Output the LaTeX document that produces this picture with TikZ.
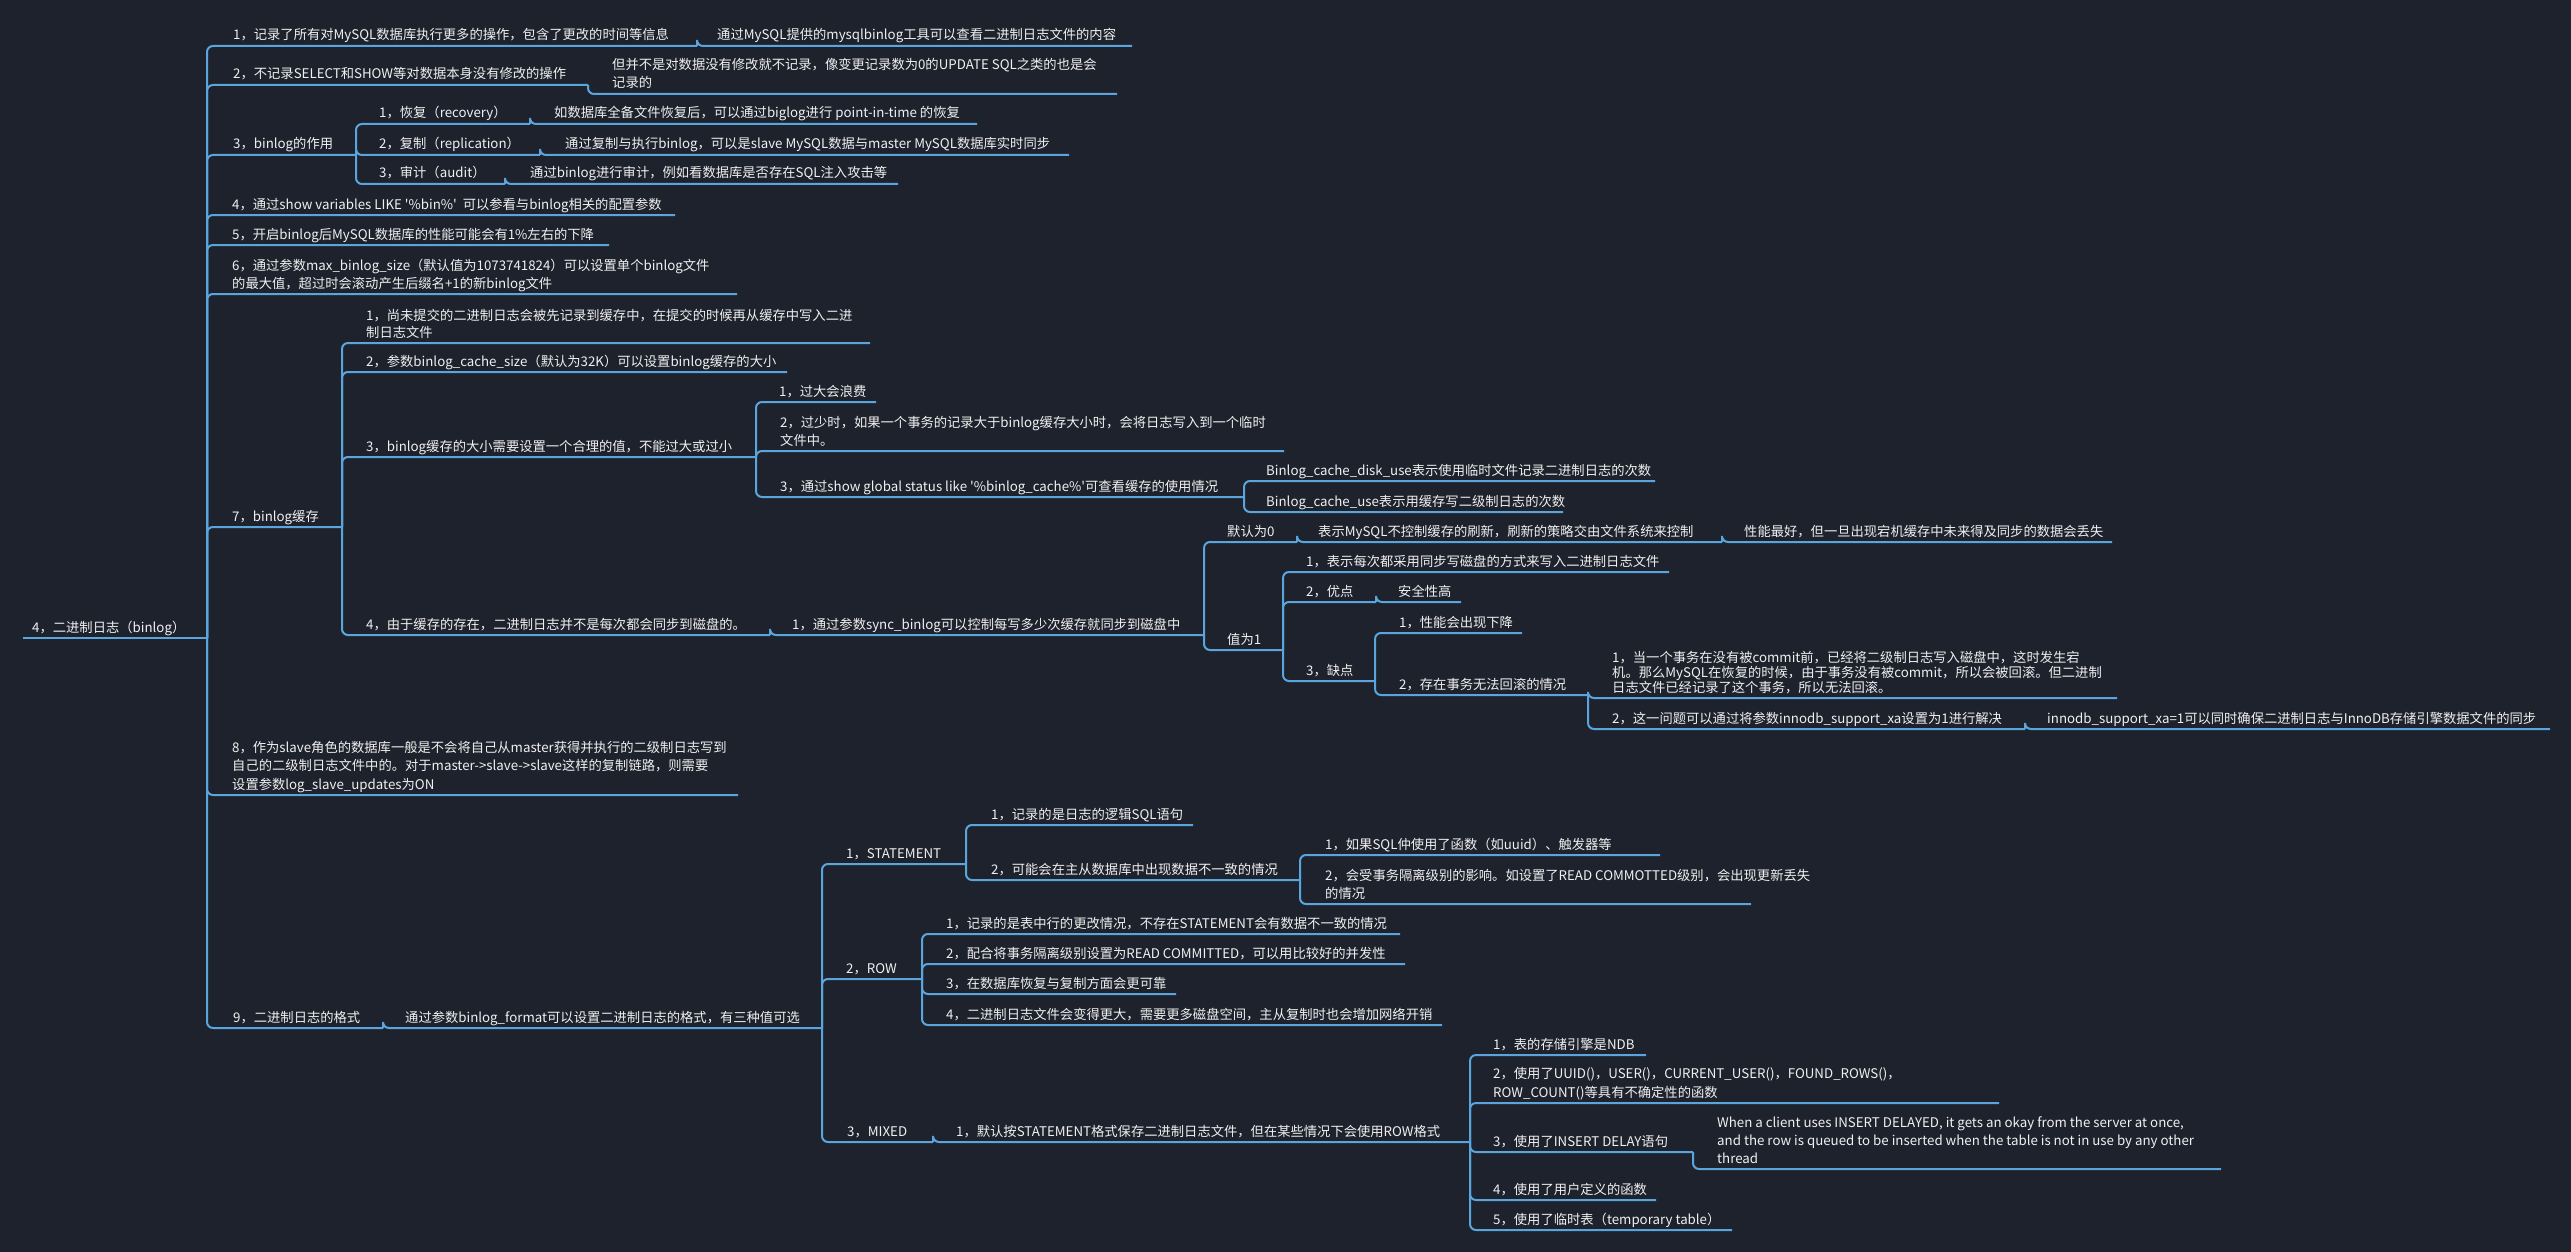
\documentclass[tikz,border=0pt]{standalone}
\usepackage{fontspec}
\setmainfont{Noto Sans CJK SC}
\definecolor{bg}{HTML}{1E222D}
\definecolor{ln}{HTML}{5AA5DD}
\definecolor{tx}{HTML}{F0F0F0}
\newcommand\MMlines[2]{\vbox{\baselineskip=#1pt\lineskiplimit=-100pt\lineskip=0pt #2}}
\newcommand\MMnode[5]{%
  \coordinate (#1) at (#4,#3);
  \node[txt] (t#1) at (#2,#3-6) {#5};}
\newcommand\MMq{\textquotesingle}
\begin{document}
\begin{tikzpicture}[x=1pt,y=-1pt,
  txt/.style={anchor=base west, inner sep=0pt, text=tx, font=\fontsize{13.3}{16}\selectfont},
  edge/.style={draw=ln, line width=2pt, rounded corners=6pt}]
\fill[bg] (0,0) rectangle (2571,1252);
\useasboundingbox (0,0) rectangle (2571,1252);
% root
\coordinate (R0) at (23,638);
\MMnode{R}{32}{638}{207}{4，二进制日志（binlog）}
% level 1
\MMnode{A1}{233}{46}{697}{1，记录了所有对MySQL数据库执行更多的操作，包含了更改的时间等信息}
\MMnode{A1a}{717}{46}{1132}{通过MySQL提供的mysqlbinlog工具可以查看二进制日志文件的内容}
\MMnode{A2}{233}{85}{588}{2，不记录SELECT和SHOW等对数据本身没有修改的操作}
\MMnode{A2a}{612}{94}{1117}{\MMlines{18}{\hbox{但并不是对数据没有修改就不记录，像变更记录数为0的UPDATE SQL之类的也是会}\hbox{记录的}}}
\MMnode{A3}{233}{155}{356}{3，binlog的作用}
\MMnode{A3a}{379}{124}{530}{1，恢复（recovery）}
\MMnode{A3a1}{554}{124}{977}{如数据库全备文件恢复后，可以通过biglog进行 point-in-time 的恢复}
\MMnode{A3b}{379}{155}{540}{2，复制（replication）}
\MMnode{A3b1}{565}{155}{1069}{通过复制与执行binlog，可以是slave MySQL数据与master MySQL数据库实时同步}
\MMnode{A3c}{379}{184}{505}{3，审计（audit）}
\MMnode{A3c1}{530}{184}{898}{通过binlog进行审计，例如看数据库是否存在SQL注入攻击等}
\MMnode{A4}{232}{215}{675}{4，通过show variables LIKE \MMq\%bin\%\MMq\ \ 可以参看与binlog相关的配置参数}
\MMnode{A5}{232}{245}{609}{5，开启binlog后MySQL数据库的性能可能会有1\%左右的下降}
\MMnode{A6}{232}{294}{737}{\MMlines{18}{\hbox{6，通过参数max\_binlog\_size（默认值为1073741824）可以设置单个binlog文件}\hbox{的最大值，超过时会滚动产生后缀名+1的新binlog文件}}}
\MMnode{A7}{232}{527}{342}{7，binlog缓存}
\MMnode{A7a}{366}{343}{870}{\MMlines{17}{\hbox{1，尚未提交的二进制日志会被先记录到缓存中，在提交的时候再从缓存中写入二进}\hbox{制日志文件}}}
\MMnode{A7b}{366}{372}{787}{2，参数binlog\_cache\_size（默认为32K）可以设置binlog缓存的大小}
\MMnode{A7c}{366}{457}{756}{3，binlog缓存的大小需要设置一个合理的值，不能过大或过小}
\MMnode{A7c1}{779}{402}{876}{1，过大会浪费}
\MMnode{A7c2}{780}{451}{1284}{\MMlines{18}{\hbox{2，过少时，如果一个事务的记录大于binlog缓存大小时，会将日志写入到一个临时}\hbox{文件中。}}}
\MMnode{A7c3}{780}{497}{1244}{3，通过show global status like \MMq\%binlog\_cache\%\MMq 可查看缓存的使用情况}
\MMnode{A7c3a}{1266}{481}{1655}{Binlog\_cache\_disk\_use表示使用临时文件记录二进制日志的次数}
\MMnode{A7c3b}{1266}{512}{1563}{Binlog\_cache\_use表示用缓存写二级制日志的次数}
\MMnode{A7d}{366}{635}{770}{4，由于缓存的存在，二进制日志并不是每次都会同步到磁盘的。}
\MMnode{A7d1}{792}{635}{1204}{1，通过参数sync\_binlog可以控制每写多少次缓存就同步到磁盘中}
\MMnode{B0}{1227}{542}{1297}{默认为0}
\MMnode{B0a}{1318}{542}{1722}{表示MySQL不控制缓存的刷新，刷新的策略交由文件系统来控制}
\MMnode{B0a1}{1744}{542}{2112}{性能最好，但一旦出现宕机缓存中未来得及同步的数据会丢失}
\MMnode{B1}{1227}{650}{1283}{值为1}
\MMnode{B1a}{1306}{572}{1669}{1，表示每次都采用同步写磁盘的方式来写入二进制日志文件}
\MMnode{B1b}{1306}{602}{1376}{2，优点}
\MMnode{B1b1}{1398}{602}{1461}{安全性高}
\MMnode{B1c}{1306}{681}{1375}{3，缺点}
\MMnode{B1c1}{1399}{633}{1522}{1，性能会出现下降}
\MMnode{B1c2}{1399}{695}{1588}{2，存在事务无法回滚的情况}
\MMnode{B1c2a}{1612}{698}{2117}{\MMlines{15}{\hbox{1，当一个事务在没有被commit前，已经将二级制日志写入磁盘中，这时发生宕}\hbox{机。那么MySQL在恢复的时候，由于事务没有被commit，所以会被回滚。但二进制}\hbox{日志文件已经记录了这个事务，所以无法回滚。}}}
\MMnode{B1c2b}{1612}{729}{2025}{2，这一问题可以通过将参数innodb\_support\_xa设置为1进行解决}
\MMnode{B1c2b1}{2047}{729}{2550}{innodb\_support\_xa=1可以同时确保二进制日志与InnoDB存储引擎数据文件的同步}
\MMnode{A8}{232}{795}{738}{\MMlines{18.5}{\hbox{8，作为slave角色的数据库一般是不会将自己从master获得并执行的二级制日志写到}\hbox{自己的二级制日志文件中的。对于master->slave->slave这样的复制链路，则需要}\hbox{设置参数log\_slave\_updates为ON}}}
\MMnode{A9}{233}{1028}{383}{9，二进制日志的格式}
\MMnode{A9a}{405}{1028}{822}{通过参数binlog\_format可以设置二进制日志的格式，有三种值可选}
\MMnode{C1}{846}{864}{966}{1，STATEMENT}
\MMnode{C1a}{991}{825}{1193}{1，记录的是日志的逻辑SQL语句}
\MMnode{C1b}{991}{880}{1300}{2，可能会在主从数据库中出现数据不一致的情况}
\MMnode{C1b1}{1325}{855}{1660}{1，如果SQL仲使用了函数（如uuid）、触发器等}
\MMnode{C1b2}{1325}{904}{1751}{\MMlines{18}{\hbox{2，会受事务隔离级别的影响。如设置了READ COMMOTTED级别，会出现更新丢失}\hbox{的情况}}}
\MMnode{C2}{846}{979}{922}{2，ROW}
\MMnode{C2a}{946}{934}{1400}{1，记录的是表中行的更改情况，不存在STATEMENT会有数据不一致的情况}
\MMnode{C2b}{946}{964}{1405}{2，配合将事务隔离级别设置为READ COMMITTED，可以用比较好的并发性}
\MMnode{C2c}{946}{994}{1176}{3，在数据库恢复与复制方面会更可靠}
\MMnode{C2d}{946}{1025}{1442}{4，二进制日志文件会变得更大，需要更多磁盘空间，主从复制时也会增加网络开销}
\MMnode{C3}{847}{1142}{933}{3，MIXED}
\MMnode{C3a}{956}{1142}{1470}{1，默认按STATEMENT格式保存二进制日志文件，但在某些情况下会使用ROW格式}
\MMnode{D1}{1493}{1055}{1646}{1，表的存储引擎是NDB}
\MMnode{D2}{1493}{1103}{1999}{\MMlines{19}{\hbox{2，使用了UUID()，USER()，CURRENT\_USER()，FOUND\_ROWS()，}\hbox{ROW\_COUNT()等具有不确定性的函数}}}
\MMnode{D3}{1493}{1152}{1693}{3，使用了INSERT DELAY语句}
\MMnode{D3a}{1717}{1169}{2221}{\MMlines{18}{\hbox{When a client uses INSERT DELAYED, it gets an okay from the server at once,}\hbox{and the row is queued to be inserted when the table is not in use by any other}\hbox{thread}}}
\MMnode{D4}{1493}{1200}{1656}{4，使用了用户定义的函数}
\MMnode{D5}{1493}{1230}{1732}{5，使用了临时表（temporary table）}
% connectors
\draw[edge] (R0) -- (R);
\foreach \p/\c in {R/A1,R/A2,R/A3,R/A4,R/A5,R/A6,R/A7,R/A8,R/A9,
  A1/A1a,A2/A2a,A3/A3a,A3/A3b,A3/A3c,A3a/A3a1,A3b/A3b1,A3c/A3c1,
  A7/A7a,A7/A7b,A7/A7c,A7/A7d,A7c/A7c1,A7c/A7c2,A7c/A7c3,A7c3/A7c3a,A7c3/A7c3b,
  A7d/A7d1,A7d1/B0,A7d1/B1,B0/B0a,B0a/B0a1,B1/B1a,B1/B1b,B1/B1c,B1b/B1b1,
  B1c/B1c1,B1c/B1c2,B1c2/B1c2a,B1c2/B1c2b,B1c2b/B1c2b1,
  A9/A9a,A9a/C1,A9a/C2,A9a/C3,C1/C1a,C1/C1b,C1b/C1b1,C1b/C1b2,
  C2/C2a,C2/C2b,C2/C2c,C2/C2d,C3/C3a,C3a/D1,C3a/D2,C3a/D3,C3a/D4,C3a/D5,D3/D3a}
  \draw[edge] (\p) |- (\c);
\end{tikzpicture}
\end{document}
